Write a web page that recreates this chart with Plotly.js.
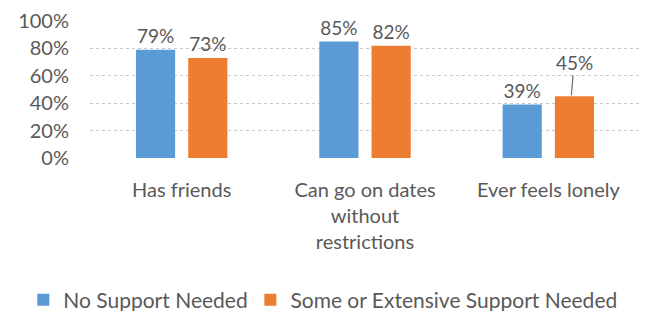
<!DOCTYPE html>
<html>
<head>
<meta charset="utf-8">
<script src="https://cdn.plot.ly/plotly-3.0.1.min.js"></script>
<style>html,body{margin:0;padding:0;background:#fff;}#chart{width:647px;height:311px;}</style>
</head>
<body>
<div id="chart"></div>
<script>
const categories = ["Has friends", "Can go on dates<br>without<br>restrictions", "Ever feels lonely"];
const seriesNames = ["No Support Needed", "Some or Extensive Support Needed"];
const noSupport = [0.79, 0.85, 0.39];
const someSupport = [0.73, 0.82, 0.45];
const yTickVals = [0, 0.2, 0.4, 0.6, 0.8, 1.0];

const fontFam = "Lato, 'Open Sans', sans-serif";
const grey = "#595959";

const pct = v => Math.round(v * 100) + "%";

const traces = [
  {
    type: "bar", name: seriesNames[0], x: categories, y: noSupport, legend: "legend",
    marker: {color: "#5B9BD5"},
    text: noSupport.map(pct), textposition: "outside", cliponaxis: false,
    textfont: {family: fontFam, size: 19, color: grey}
  },
  {
    type: "bar", name: seriesNames[1], x: categories, y: someSupport, legend: "legend2",
    marker: {color: "#ED7D31"},
    text: someSupport.map((v, i) => i === 2 ? "" : pct(v)), textposition: "outside", cliponaxis: false,
    textfont: {family: fontFam, size: 19, color: grey}
  }
];

const legendCommon = {orientation: "h", xref: "container", yref: "container",
  xanchor: "left", y: 0.035, yanchor: "middle", itemwidth: 30,
  font: {family: fontFam, size: 21, color: grey}, bgcolor: "rgba(0,0,0,0)"};

const layout = {
  width: 647, height: 311,
  margin: {l: 90, r: 7, t: 21, b: 153, autoexpand: false},
  paper_bgcolor: "#fff", plot_bgcolor: "#fff",
  font: {family: fontFam, color: grey, size: 20},
  barmode: "group", bargap: 0.43, bargroupgap: 0.25,
  showlegend: true,
  legend: Object.assign({}, legendCommon, {x: 0.036}),
  legend2: Object.assign({}, legendCommon, {x: 0.387}),
  xaxis: {type: "category", showgrid: false, zeroline: false, showline: false, automargin: false,
          ticks: "", ticklabelstandoff: 18, tickfont: {family: fontFam, size: 20, color: grey}},
  yaxis: {range: [0, 1], tickvals: yTickVals, tickformat: ".0%", showgrid: true, automargin: false,
          gridcolor: "#c8c8c8", griddash: "dot", gridwidth: 1, zeroline: false,
          showline: false, ticks: "", ticklabelstandoff: 20,
          tickfont: {family: fontFam, size: 20, color: grey}},
  annotations: [{
    x: 2.125, y: someSupport[2], xref: "x", yref: "y",
    text: pct(someSupport[2]), showarrow: true, arrowhead: 0, arrowwidth: 1.2,
    arrowcolor: "#6f6f6f", ax: 3, ay: -34, standoff: 1,
    font: {family: fontFam, size: 19, color: grey}
  }]
};

Plotly.newPlot("chart", traces, layout, {displayModeBar: false, staticPlot: true});
</script>
</body>
</html>
